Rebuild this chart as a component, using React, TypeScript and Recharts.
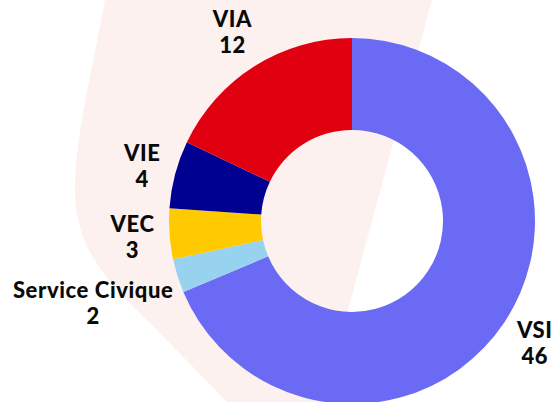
import { PieChart, Pie, Cell } from 'recharts';

const names = ['VSI', 'Service Civique', 'VEC', 'VIE', 'VIA'];
const counts = [46, 2, 3, 4, 12];
const colors = ['#6a6af4', '#97d2ef', '#ffca00', '#000091', '#e1000f'];

const data = names.map((name, i) => ({ name, value: counts[i] }));

const FONT = "Lato, sans-serif";
const FONT_SIZE = 22;
const SPACING = 0.6;
const LINE = 26;
const RADIAN = Math.PI / 180;

let ctx: CanvasRenderingContext2D | null = null;
function textWidth(t: string) {
  if (!ctx) ctx = document.createElement('canvas').getContext('2d');
  if (!ctx) return t.length * FONT_SIZE * 0.6;
  ctx.font = `900 ${FONT_SIZE}px ${FONT}`;
  return ctx.measureText(t).width + t.length * SPACING;
}

function renderLabel(props: any) {
  const { cx, cy, midAngle, outerRadius, name, value } = props;
  const c = Math.cos(-midAngle * RADIAN);
  const s = Math.sin(-midAngle * RADIAN);
  const r = outerRadius + 15;
  const hw = Math.max(textWidth(name), textWidth(String(value))) / 2;
  const hh = 22;
  const d = Math.min(
    Math.abs(c) > 1e-6 ? hw / Math.abs(c) : Infinity,
    Math.abs(s) > 1e-6 ? hh / Math.abs(s) : Infinity
  );
  const x = cx + (r + d) * c;
  const y = cy + (r + d) * s;
  const common = {
    textAnchor: 'middle' as const,
    dominantBaseline: 'central' as const,
    fontFamily: FONT,
    fontWeight: 900,
    fontSize: FONT_SIZE,
    letterSpacing: SPACING,
    fill: '#0a0a0a',
  };
  return (
    <g>
      <text x={x} y={y - LINE / 2} {...common}>{name}</text>
      <text x={x} y={y + LINE / 2} {...common}>{value}</text>
    </g>
  );
}

export default function App() {
  return (
    <div style={{ position: 'absolute', left: 0, top: 0, width: 558, height: 402, background: '#fff', overflow: 'hidden' }}>
      <svg width={558} height={402} style={{ position: 'absolute', left: 0, top: 0 }}>
        <path
          d="M105,0 L432,0 L323,402 L227,402 L150,323 C110,285 75,250 75,190 C75,140 90,80 105,0 Z"
          fill="#fdf1f0"
        />
      </svg>
      <div style={{ position: 'absolute', left: 0, top: 0 }}>
        <PieChart width={558} height={402} margin={{ top: 0, right: 0, bottom: 0, left: 0 }}>
          <Pie
            data={data}
            dataKey="value"
            nameKey="name"
            cx={352}
            cy={221}
            innerRadius={91}
            outerRadius={183}
            startAngle={90}
            endAngle={-270}
            stroke="none"
            label={renderLabel}
            labelLine={false}
            isAnimationActive={false}
          >
            {data.map((d, i) => (
              <Cell key={d.name} fill={colors[i]} />
            ))}
          </Pie>
        </PieChart>
      </div>
    </div>
  );
}
